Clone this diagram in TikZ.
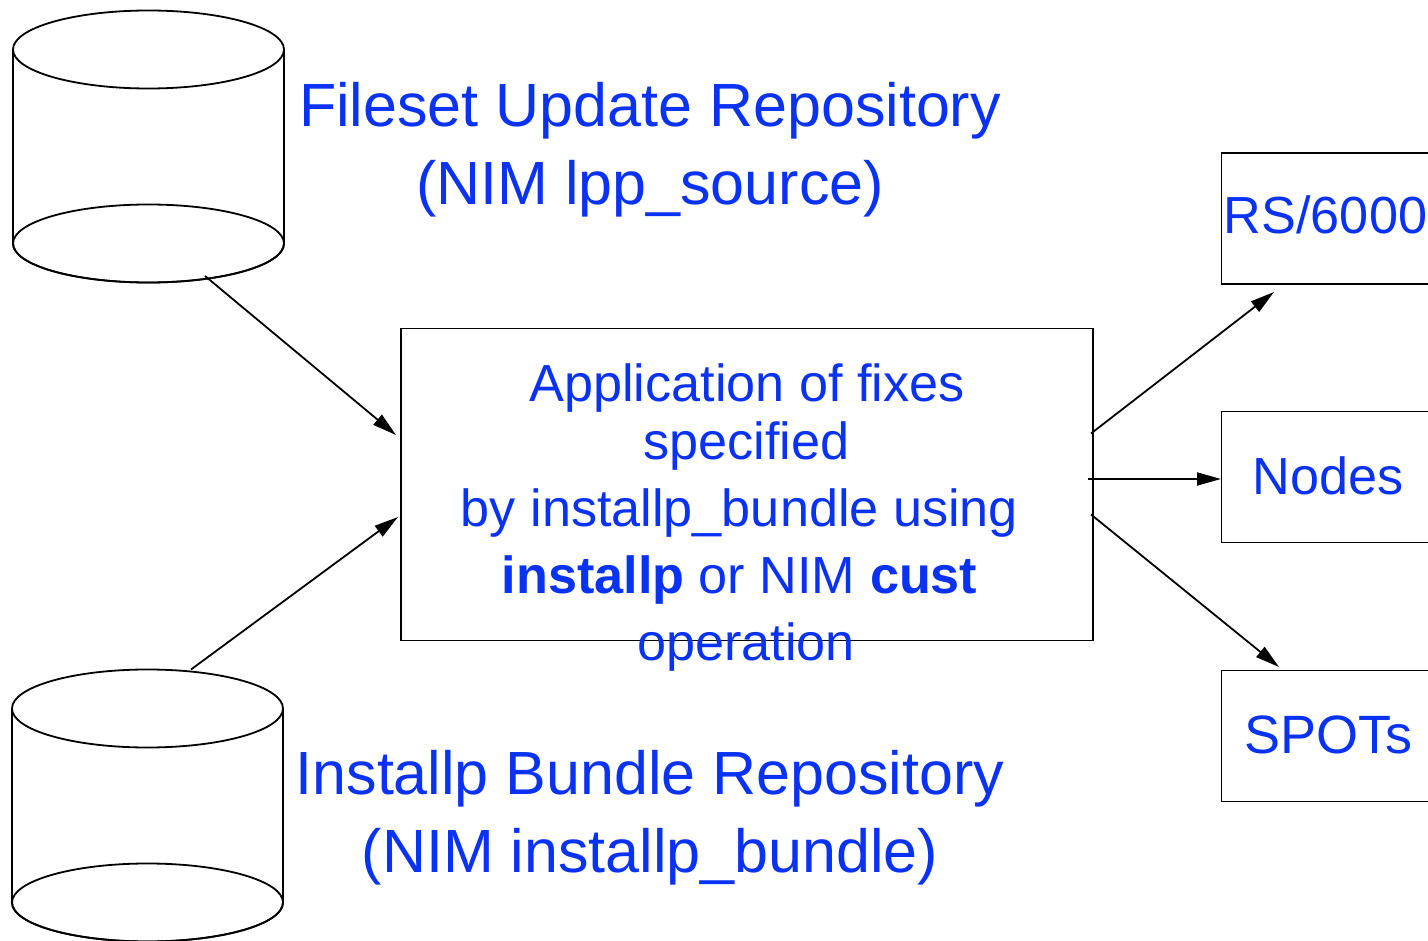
\documentclass[tikz,border=0pt]{standalone}
\usepackage{fontspec}
\setmainfont{Liberation Sans}
\usepackage{xcolor}
\definecolor{fixBlue}{RGB}{10,50,245}
\usetikzlibrary{arrows.meta, positioning}
\tikzset{block/.style={draw, line width=1.8pt, minimum height=131pt, minimum width=240pt, inner sep=0pt},
    drum/.style={line width=1.8pt},
    title/.style={text=fixBlue, align=center, font=\fontsize{61}{78}\selectfont, inner sep=0pt},
    label/.style={text=fixBlue, font=\fontsize{52.2}{52}\selectfont, inner sep=0pt, anchor=base},
    conn/.style={line width=1.8pt, -{Triangle[length=24pt,width=13pt]}}}
\newcommand{\drumShape}[2]{%
    \draw [drum] (#1-135.5,#2-97) -- (#1-135.5,#2+97) arc [start angle=180, end angle=360, x radius=135.5, y radius=-39] -- (#1+135.5,#2-97);
    \draw [drum] (#1,#2-97) ellipse [x radius=135.5, y radius=39];
    \draw [drum] (#1,#2+97) ellipse [x radius=135.5, y radius=39];}
\begin{document}
\begin{tikzpicture}[x=1pt,y=-1pt]
    \useasboundingbox (0,0) rectangle (1428,941);
    % drums first
    \drumShape{148.5}{146.5}
    \drumShape{147.5}{805.5}
    \node [title] (fixText) at (650,150) {Fileset Update Repository\\(NIM lpp\_source)};
    \node [title] (bundleText) at (650,818) {Installp Bundle Repository\\(NIM installp\_bundle)};
    % the middle box and its text
    \node [block, minimum width=692pt, minimum height=312pt] (fixBox) at (747,484.5) {};
    \node [label] (fixLineA) at (747,402) {Application of fixes};
    \node [label] (fixLineB) at (746.5,459) {specified};
    \node [label] (fixLineC) at (739.5,526) {by installp\_bundle using};
    \node [label] (fixLineD) at (739.5,593.5) {\textbf{installp} or NIM \textbf{cust}};
    \node [label] (fixLineE) at (746,660) {operation};
    % the targets run off the right edge
    \node [block] (rsBox) at (1341.5,218.5) {};
    \node [label] (rsText) at (1325.5,233.5) {RS/6000};
    \node [block] (nodesBox) at (1341.5,477) {};
    \node [label] (nodesText) at (1328,494) {Nodes};
    \node [block] (spotsBox) at (1341.5,736) {};
    \node [label, font=\fontsize{54}{54}\selectfont] (spotsText) at (1328.5,753) {SPOTs};
    % connectors
    \coordinate (fixOut) at (205,276);
    \coordinate (fixIn) at (396,435);
    \coordinate (bundleOut) at (191,669.5);
    \coordinate (bundleIn) at (398,517);
    \coordinate (rsOut) at (1091,433.5);
    \coordinate (rsIn) at (1274,292);
    \coordinate (nodesOut) at (1088,479);
    \coordinate (nodesIn) at (1221,479);
    \coordinate (spotsOut) at (1091,514.5);
    \coordinate (spotsIn) at (1279,667);
    \draw [conn] (fixOut) -- (fixIn);
    \draw [conn] (bundleOut) -- (bundleIn);
    \draw [conn] (rsOut) -- (rsIn);
    \draw [conn] (nodesOut) -- (nodesIn);
    \draw [conn] (spotsOut) -- (spotsIn);
\end{tikzpicture}
\end{document}
